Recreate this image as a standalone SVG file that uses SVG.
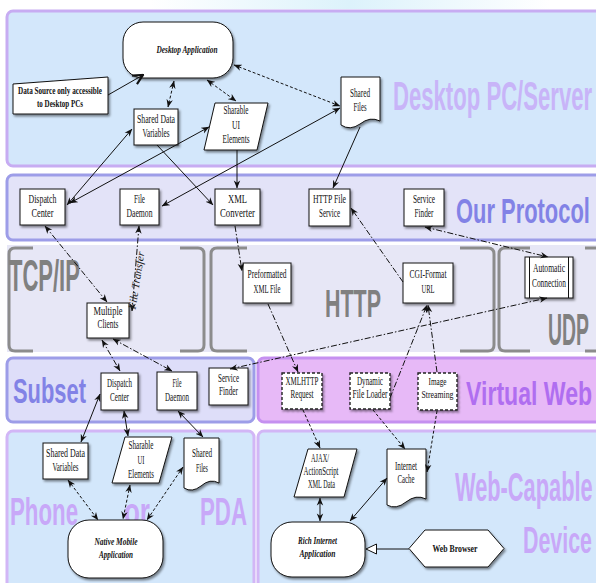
<svg xmlns="http://www.w3.org/2000/svg" width="596" height="583" viewBox="0 0 596 583">
<defs>
<linearGradient id="topg" x1="0" y1="0" x2="1" y2="0">
<stop offset="0" stop-color="#ffffff"/><stop offset="0.5" stop-color="#dcf2fb"/><stop offset="1" stop-color="#ffffff"/>
</linearGradient>
<filter id="sh" x="-20%" y="-20%" width="150%" height="150%">
<feDropShadow dx="1.5" dy="2" stdDeviation="1.2" flood-color="#000" flood-opacity="0.45"/>
</filter>
<marker id="a" viewBox="0 0 10 10" refX="9.5" refY="5" markerWidth="8" markerHeight="8" markerUnits="userSpaceOnUse" orient="auto-start-reverse">
<path d="M0,1 L10,5 L0,9 L3,5 Z" fill="#111"/>
</marker>
<marker id="o" viewBox="0 0 12 12" refX="11" refY="6" markerWidth="13" markerHeight="13" markerUnits="userSpaceOnUse" orient="auto">
<path d="M2,1.5 L11,6 L2,10.5" fill="none" stroke="#111" stroke-width="2"/>
</marker>
<marker id="h" viewBox="0 0 12 12" refX="11.5" refY="6" markerWidth="12" markerHeight="12" markerUnits="userSpaceOnUse" orient="auto">
<path d="M1,1 L11.5,6 L1,11 Z" fill="#ffffff" stroke="#111" stroke-width="1"/>
</marker>
<style>
.big{font-family:"Liberation Sans",Arial,sans-serif;font-weight:bold}
.n{font-family:"Liberation Serif","Times New Roman",serif;font-size:11.5px;text-anchor:middle;fill:#111}
.sm{font-size:10.5px}
.bi{font-family:"Liberation Serif","Times New Roman",serif;font-size:11px;font-weight:bold;font-style:italic;text-anchor:middle;fill:#111}
.b{font-family:"Liberation Serif","Times New Roman",serif;font-size:11px;font-weight:bold;text-anchor:middle;fill:#111}
.box{fill:#ffffff;stroke:#111;stroke-width:1;filter:url(#sh)}
.dbox{fill:#ffffff;stroke:#222;stroke-width:1.4;stroke-dasharray:3 2;filter:url(#sh)}
.brk{fill:none;stroke:#8c8c8c;stroke-width:3}
.s{fill:none;stroke:#111;stroke-width:1}
.d{fill:none;stroke:#111;stroke-width:1;stroke-dasharray:3 2}
.dd{fill:none;stroke:#111;stroke-width:1;stroke-dasharray:6 2 1.5 2}
</style>
</defs>

<rect x="0" y="0" width="596" height="583" fill="#ffffff"/>
<rect x="150" y="0" width="400" height="9" fill="url(#topg)"/>

<g id="bands">
<rect x="7" y="11" width="600" height="155" rx="6" fill="#d3e7fb" stroke="#c7acf2" stroke-width="3"/>
<rect x="7" y="175" width="600" height="65" rx="6" fill="#e3e3f8" stroke="#9d9de8" stroke-width="3"/>
<rect x="7" y="245" width="600" height="107" fill="#e7e7f6"/>
<rect x="7" y="358" width="247" height="64" rx="6" fill="#dedef9" stroke="#9d9de8" stroke-width="3"/>
<rect x="258" y="358" width="350" height="64" rx="6" fill="#e7b9f7" stroke="#c590f0" stroke-width="3"/>
<rect x="7" y="431" width="247" height="160" rx="6" fill="#d3e7fb" stroke="#d2b6f6" stroke-width="3"/>
<rect x="258" y="431" width="350" height="160" rx="6" fill="#d3e7fb" stroke="#d2b6f6" stroke-width="3"/>
</g>

<g id="brackets">
<path class="brk" d="M33,248 H15 Q9,248 9,254 V345 Q9,351 15,351 H33"/>
<path class="brk" d="M180,248 H198 Q204,248 204,254 V345 Q204,351 198,351 H180"/>
<path class="brk" d="M247,248 H217 Q211,248 211,254 V345 Q211,351 217,351 H247"/>
<path class="brk" d="M460,248 H488 Q494,248 494,254 V345 Q494,351 488,351 H460"/>
<path class="brk" d="M530,248 H505 Q499,248 499,254 V345 Q499,351 505,351 H530"/>
<path class="brk" d="M585,248 H600 M585,351 H600"/>
</g>

<g id="labels">
<text class="big" font-size="40" fill="#c8b4f8" transform="translate(393,110) scale(0.553,1)">Desktop PC/Server</text>
<text class="big" font-size="35" fill="#8282e6" transform="translate(456,223) scale(0.626,1)">Our Protocol</text>
<text class="big" font-size="44" fill="#808080" transform="translate(9,291) scale(0.5,1)">TCP/IP</text>
<text class="big" font-size="38" fill="#808080" transform="translate(325,317) scale(0.565,1)">HTTP</text>
<text class="big" font-size="44" fill="#808080" transform="translate(548,345) scale(0.441,1)">UDP</text>
<text class="big" font-size="35" fill="#8282e6" transform="translate(13,403) scale(0.626,1)">Subset</text>
<text class="big" font-size="33" fill="#b06ef0" transform="translate(466,405) scale(0.70,1)">Virtual Web</text>
<text class="big" font-size="38" fill="#c8a8f8" transform="translate(10,525) scale(0.586,1)">Phone</text>
<text class="big" font-size="38" fill="#c8a8f8" transform="translate(124,525) scale(0.684,1)">or</text>
<text class="big" font-size="38" fill="#c8a8f8" transform="translate(200,525) scale(0.586,1)">PDA</text>
<text class="big" font-size="40" fill="#c8a8f8" transform="translate(455,501) scale(0.545,1)">Web-Capable</text>
<text class="big" font-size="37" fill="#c8a8f8" transform="translate(523,553) scale(0.578,1)">Device</text>
</g>

<g id="desktop-application">
<rect class="box" x="123" y="22" width="110" height="56" rx="20"/>
<text class="bi" x="187" y="53" textLength="61" lengthAdjust="spacingAndGlyphs">Desktop Application</text>
</g>
<g id="data-source">
<path class="box" d="M13,84 L108,77 L108,114 L13,114 Z" stroke-width="2.2"/>
<text class="b" x="60" y="94" textLength="84" lengthAdjust="spacingAndGlyphs">Data Source only accessible</text>
<text class="b" x="60" y="107" textLength="46" lengthAdjust="spacingAndGlyphs">to Desktop PCs</text>
</g>
<g id="shared-data-variables-desktop">
<rect class="box" x="134" y="109" width="44" height="36"/>
<text class="n" x="156" y="123" textLength="38" lengthAdjust="spacingAndGlyphs">Shared Data</text>
<text class="n" x="156" y="137" textLength="27" lengthAdjust="spacingAndGlyphs">Variables</text>
</g>
<g id="sharable-ui-desktop">
<path class="box" d="M215,103 L268,103 L257,150 L204,150 Z"/>
<text class="n" x="236" y="114" textLength="25" lengthAdjust="spacingAndGlyphs">Sharable</text>
<text class="n" x="236" y="128.5" textLength="8" lengthAdjust="spacingAndGlyphs">UI</text>
<text class="n" x="236" y="143" textLength="27" lengthAdjust="spacingAndGlyphs">Elements</text>
</g>
<g id="shared-files-desktop">
<path class="box" d="M341,77 H380 V121 Q370,116 360,124 Q350,131 341,125 Z"/>
<text class="n" x="360" y="97" textLength="20" lengthAdjust="spacingAndGlyphs">Shared</text>
<text class="n" x="360" y="111" textLength="13" lengthAdjust="spacingAndGlyphs">Files</text>
</g>

<g id="dispatch-center-protocol">
<rect class="box" x="20" y="189" width="45" height="36"/>
<text class="n" x="42.5" y="203" textLength="28" lengthAdjust="spacingAndGlyphs">Dispatch</text>
<text class="n" x="42.5" y="217" textLength="22" lengthAdjust="spacingAndGlyphs">Center</text>
</g>
<g id="file-daemon-protocol">
<rect class="box" x="120" y="189" width="39" height="36"/>
<text class="n" x="139.5" y="203" textLength="11" lengthAdjust="spacingAndGlyphs">File</text>
<text class="n" x="139.5" y="217" textLength="26" lengthAdjust="spacingAndGlyphs">Daemon</text>
</g>
<g id="xml-converter">
<rect class="box" x="215" y="189" width="45" height="36"/>
<text class="n" x="237.5" y="203" textLength="19" lengthAdjust="spacingAndGlyphs">XML</text>
<text class="n" x="237.5" y="217" textLength="35" lengthAdjust="spacingAndGlyphs">Converter</text>
</g>
<g id="http-file-service">
<rect class="box" x="309" y="189" width="41" height="37"/>
<text class="n" x="329.5" y="203" textLength="33" lengthAdjust="spacingAndGlyphs">HTTP File</text>
<text class="n" x="329.5" y="217" textLength="21" lengthAdjust="spacingAndGlyphs">Service</text>
</g>
<g id="service-finder-protocol">
<rect class="box" x="404" y="189" width="40" height="37"/>
<text class="n" x="424" y="203" textLength="22" lengthAdjust="spacingAndGlyphs">Service</text>
<text class="n" x="424" y="217" textLength="19" lengthAdjust="spacingAndGlyphs">Finder</text>
</g>

<g id="multiple-clients">
<rect class="box" x="87" y="303" width="42" height="35" stroke-width="1.3"/>
<text class="n" x="108" y="315" textLength="29" lengthAdjust="spacingAndGlyphs">Multiple</text>
<text class="n" x="108" y="328" textLength="21" lengthAdjust="spacingAndGlyphs">Clients</text>
</g>
<g id="preformatted-xml-file">
<rect class="box" x="243" y="263" width="48" height="40" stroke="#555"/>
<text class="n" x="267" y="278" textLength="39" lengthAdjust="spacingAndGlyphs">Preformatted</text>
<text class="n" x="267" y="293" textLength="27" lengthAdjust="spacingAndGlyphs">XML File</text>
</g>
<g id="cgi-format-url">
<rect class="box" x="403" y="263" width="50" height="40" stroke="#555"/>
<text class="n" x="428" y="278" textLength="37" lengthAdjust="spacingAndGlyphs">CGI-Format</text>
<text class="n" x="428" y="293" textLength="13" lengthAdjust="spacingAndGlyphs">URL</text>
</g>
<g id="automatic-connection">
<rect class="box" x="525" y="257" width="48" height="41"/>
<path class="s" d="M529.5,257 V298 M568.5,257 V298"/>
<text class="n" x="549" y="272" textLength="32" lengthAdjust="spacingAndGlyphs">Automatic</text>
<text class="n" x="549" y="287" textLength="34" lengthAdjust="spacingAndGlyphs">Connection</text>
</g>

<g id="dispatch-center-subset">
<rect class="box" x="101" y="373" width="37" height="37"/>
<text class="n" x="119.5" y="387" textLength="25" lengthAdjust="spacingAndGlyphs">Dispatch</text>
<text class="n" x="119.5" y="401" textLength="19" lengthAdjust="spacingAndGlyphs">Center</text>
</g>
<g id="file-daemon-subset">
<rect class="box" x="157" y="372" width="40" height="38"/>
<text class="n" x="177" y="387" textLength="9" lengthAdjust="spacingAndGlyphs">File</text>
<text class="n" x="177" y="401" textLength="24" lengthAdjust="spacingAndGlyphs">Daemon</text>
</g>
<g id="service-finder-subset">
<rect class="box" x="209" y="368" width="39" height="37"/>
<text class="n" x="228.5" y="382" textLength="21" lengthAdjust="spacingAndGlyphs">Service</text>
<text class="n" x="228.5" y="395" textLength="19" lengthAdjust="spacingAndGlyphs">Finder</text>
</g>

<g id="xmlhttp-request">
<rect class="dbox" x="282" y="373" width="40" height="36"/>
<text class="n" x="302" y="385" textLength="33" lengthAdjust="spacingAndGlyphs">XMLHTTP</text>
<text class="n" x="302" y="398" textLength="23" lengthAdjust="spacingAndGlyphs">Request</text>
</g>
<g id="dynamic-file-loader">
<rect class="dbox" x="350" y="373" width="40" height="36"/>
<text class="n" x="370" y="385" textLength="26" lengthAdjust="spacingAndGlyphs">Dynamic</text>
<text class="n" x="370" y="398" textLength="35" lengthAdjust="spacingAndGlyphs">File Loader</text>
</g>
<g id="image-streaming">
<rect class="dbox" x="418" y="373" width="39" height="37"/>
<text class="n sm" x="437.5" y="385" textLength="18" lengthAdjust="spacingAndGlyphs">Image</text>
<text class="n sm" x="437.5" y="398" textLength="32" lengthAdjust="spacingAndGlyphs">Streaming</text>
</g>

<g id="shared-data-variables-phone">
<rect class="box" x="43" y="443" width="45" height="36"/>
<text class="n" x="65.5" y="457" textLength="39" lengthAdjust="spacingAndGlyphs">Shared Data</text>
<text class="n" x="65.5" y="471" textLength="26" lengthAdjust="spacingAndGlyphs">Variables</text>
</g>
<g id="sharable-ui-phone">
<path class="box" d="M125,437 L172,437 L159,483 L112,483 Z"/>
<text class="n" x="141" y="449" textLength="25" lengthAdjust="spacingAndGlyphs">Sharable</text>
<text class="n" x="141" y="463.5" textLength="7" lengthAdjust="spacingAndGlyphs">UI</text>
<text class="n" x="141" y="478" textLength="26" lengthAdjust="spacingAndGlyphs">Elements</text>
</g>
<g id="shared-files-phone">
<path class="box" d="M184,438 H219 V483 Q210,478 201,486 Q192,493 184,488 Z"/>
<text class="n" x="202" y="457" textLength="20" lengthAdjust="spacingAndGlyphs">Shared</text>
<text class="n" x="202" y="472" textLength="12" lengthAdjust="spacingAndGlyphs">Files</text>
</g>
<g id="native-mobile-application">
<rect class="box" x="68" y="520" width="95" height="58" rx="21"/>
<text class="bi" x="116" y="545" textLength="43" lengthAdjust="spacingAndGlyphs">Native Mobile</text>
<text class="bi" x="116" y="558" textLength="34" lengthAdjust="spacingAndGlyphs">Application</text>
</g>

<g id="ajax-actionscript-xml-data">
<path class="box" d="M308,449 L357,449 L344,497 L294,497 Z"/>
<text class="n" x="320" y="462" textLength="18" lengthAdjust="spacingAndGlyphs">AJAX/</text>
<text class="n" x="321" y="475" textLength="35" lengthAdjust="spacingAndGlyphs">ActionScript</text>
<text class="n" x="321.5" y="488" textLength="27" lengthAdjust="spacingAndGlyphs">XML Data</text>
</g>
<g id="internet-cache">
<path class="box" d="M387,449 H426 V499 Q416,494 406,502 Q396,510 387,505 Z"/>
<text class="n" x="406" y="470" textLength="22" lengthAdjust="spacingAndGlyphs">Internet</text>
<text class="n" x="406" y="483" textLength="17" lengthAdjust="spacingAndGlyphs">Cache</text>
</g>
<g id="rich-internet-application">
<rect class="box" x="271" y="522" width="94" height="55" rx="21"/>
<text class="bi" x="317.5" y="544" textLength="39" lengthAdjust="spacingAndGlyphs">Rich Internet</text>
<text class="bi" x="317.5" y="557" textLength="36" lengthAdjust="spacingAndGlyphs">Application</text>
</g>
<g id="web-browser">
<path class="box" d="M409,548.5 L425,530 L488,530 L504,548.5 L488,567 L425,567 Z" stroke-width="2"/>
<text class="b" x="455" y="552" textLength="45" lengthAdjust="spacingAndGlyphs">Web Browser</text>
</g>

<g id="connectors">
<path class="s" d="M108,95 L143,75" stroke-width="2.5" marker-end="url(#o)"/>
<path class="d" d="M174,81 L168,107" marker-start="url(#a)" marker-end="url(#a)"/>
<path class="d" d="M207,80 L236,101" marker-start="url(#a)" marker-end="url(#a)"/>
<path class="d" d="M234,65 L340,106" marker-start="url(#a)" marker-end="url(#a)"/>
<path class="s" d="M67,205 L132,129" marker-start="url(#a)" marker-end="url(#a)"/>
<path class="s" d="M70,203 L209,127" marker-start="url(#a)" marker-end="url(#a)"/>
<path class="s" d="M157,145 L213,205" marker-end="url(#a)"/>
<path class="s" d="M237,150 L237,188" marker-end="url(#a)"/>
<path class="s" d="M162,206 L340,108" marker-start="url(#a)" marker-end="url(#a)"/>
<path class="s" d="M360,127 L333,188" marker-end="url(#a)"/>

<path class="dd" d="M45,226 L107,302" marker-start="url(#a)" marker-end="url(#a)"/>
<path class="dd" d="M139,226 L132,311" marker-start="url(#a)" marker-end="url(#a)"/>
<path class="dd" d="M235,226 L242,271" marker-end="url(#a)"/>
<path class="dd" d="M268,304 L298,372" marker-end="url(#a)"/>
<path class="dd" d="M403,282 L351,208" marker-end="url(#a)"/>
<path class="dd" d="M425,227 L548,257" marker-start="url(#a)" marker-end="url(#a)"/>
<path class="dd" d="M230,369 L547,298" marker-start="url(#a)" marker-end="url(#a)"/>
<path class="dd" d="M102,340 L120,371" marker-start="url(#a)" marker-end="url(#a)"/>
<path class="dd" d="M113,339 L172,371" marker-start="url(#a)" marker-end="url(#a)"/>
<path class="dd" d="M390,398 L427,305" marker-end="url(#a)"/>
<path class="dd" d="M437,372 L428,305" marker-end="url(#a)"/>

<path class="d" d="M303,410 L320,448" marker-end="url(#a)"/>
<path class="d" d="M373,410 L405,449" marker-end="url(#a)"/>
<path class="d" d="M437,411 L427,472" marker-end="url(#a)"/>
<path class="s" d="M320,498 L320,521" marker-start="url(#a)" marker-end="url(#a)"/>
<path class="s" d="M387,478 L350,521" marker-start="url(#a)" marker-end="url(#a)"/>
<path class="s" d="M409,549 L366,549" marker-end="url(#h)"/>

<path class="s" d="M100,394 L81,442" marker-start="url(#a)" marker-end="url(#a)"/>
<path class="s" d="M124,411 L128,436" marker-start="url(#a)" marker-end="url(#a)"/>
<path class="s" d="M178,411 L203,437" marker-start="url(#a)" marker-end="url(#a)"/>
<path class="d" d="M68,480 L98,520" marker-start="url(#a)" marker-end="url(#a)"/>
<path class="d" d="M130,485 L123,519" marker-start="url(#a)" marker-end="url(#a)"/>
<path class="d" d="M183,467 L147,520" marker-start="url(#a)" marker-end="url(#a)"/>

<text font-family="'Liberation Serif','Times New Roman',serif" font-size="11" font-style="italic" fill="#222" text-anchor="middle" transform="translate(140,281) rotate(-81)" textLength="58" lengthAdjust="spacingAndGlyphs">File Transfer</text>
</g>
</svg>
